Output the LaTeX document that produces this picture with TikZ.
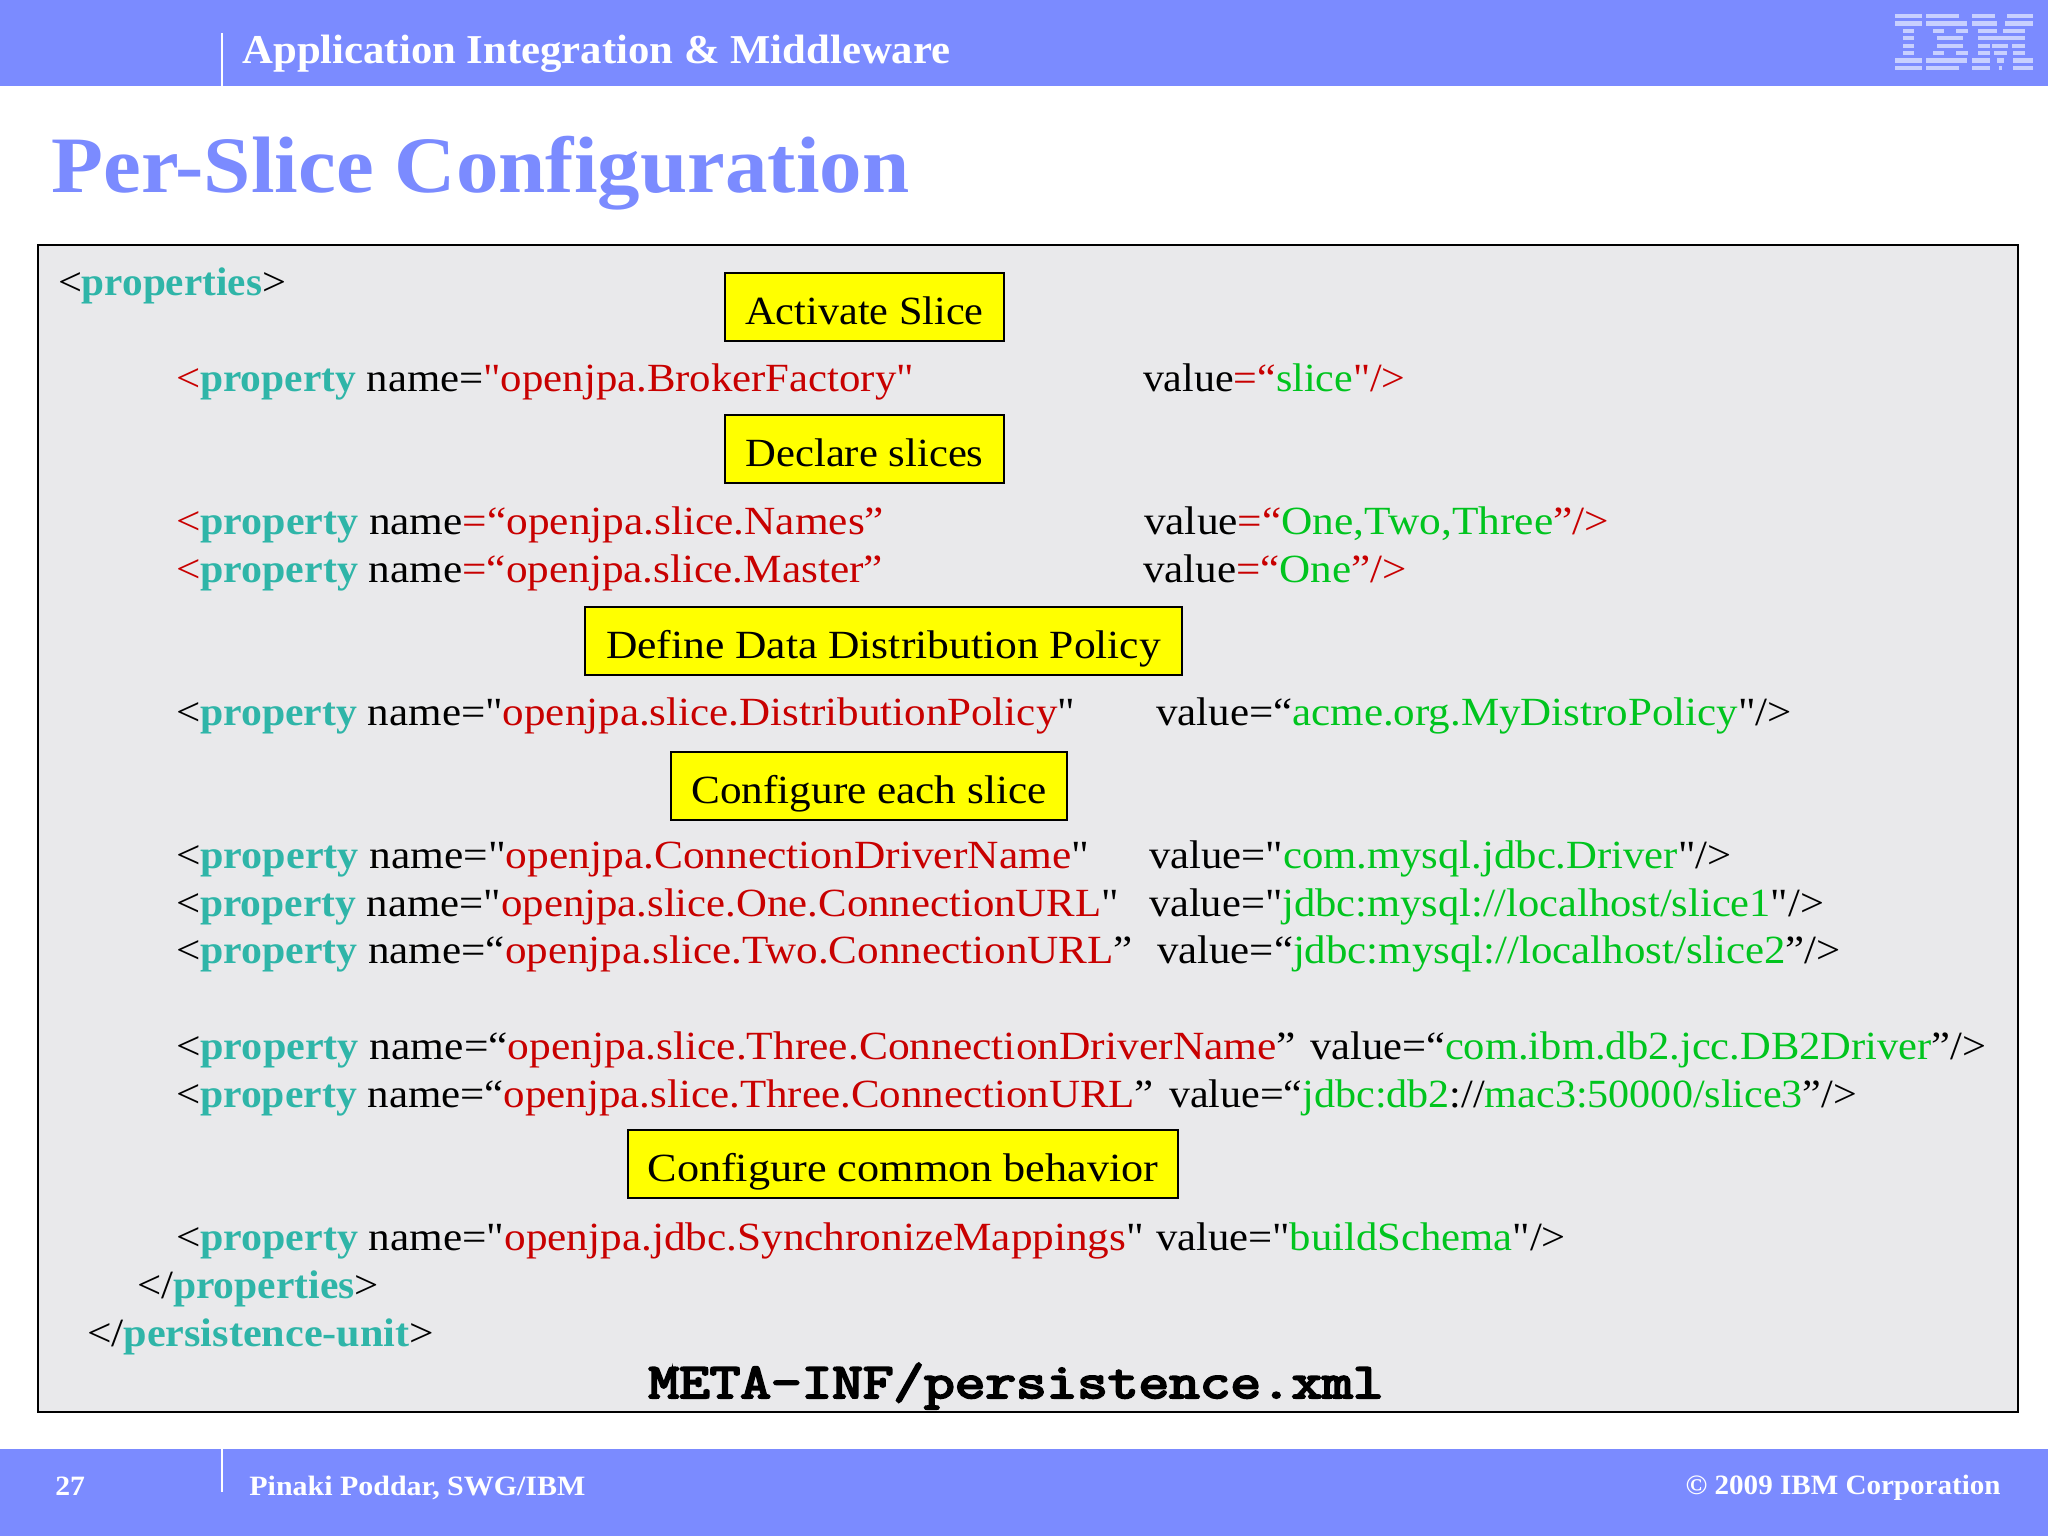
\documentclass[tikz,border=0pt]{standalone}
\usepackage{fontspec}
\setmainfont[FakeStretch=1.06,Ligatures=TeXOff]{Liberation Serif}
\newfontfamily\titlefont[FakeStretch=1.03,Ligatures=TeXOff]{Liberation Serif}
\newfontfamily\filefont[FakeBold=4,Ligatures=TeXOff]{Latin Modern Mono}
\definecolor{slideblue}{HTML}{7B8BFF}
\definecolor{panelgrey}{HTML}{E9E9EB}
\definecolor{tagteal}{HTML}{2FB5A8}
\definecolor{attrred}{HTML}{C80000}
\definecolor{valgreen}{HTML}{00C41E}
\definecolor{logolight}{HTML}{C8D0FF}
\definecolor{calloutyellow}{HTML}{FFFF00}
\newcommand{\tg}[1]{\textcolor{tagteal}{\bfseries\scalebox{0.97}[1]{#1}}}
\newcommand{\rd}[1]{\textcolor{attrred}{#1}}
\newcommand{\gn}[1]{\textcolor{valgreen}{#1}}
\newcommand{\logorow}[3]{\foreach \a/\b in {#3} {\fill[logolight] (\a,#1) rectangle (\b,#2);}}
\newsavebox\fitbox
\newcommand{\fitto}[2]{\sbox\fitbox{#2}\pgfmathsetmacro\fitratio{#1*0.5/\the\wd\fitbox}\scalebox{\fitratio}[1]{\usebox\fitbox}}
\tikzset{
  code/.style={anchor=base west,inner sep=0pt,outer sep=0pt,font=\fontsize{20}{24}\selectfont},
  callout/.style={draw=black,line width=1pt,fill=calloutyellow,inner sep=0pt,minimum height=34pt,text height=25.5pt,text depth=8.5pt,font=\fontsize{20}{24}\selectfont,text=black},
  whitetext/.style={anchor=base west,inner sep=0pt,text=white,font=\bfseries\fontsize{14}{17}\selectfont},
}
\begin{document}
\begin{tikzpicture}[x=0.5pt,y=-0.5pt]
\useasboundingbox (0,0) rectangle (2048,1536);
\fill[white] (0,0) rectangle (2048,1536);
% bands
\fill[slideblue] (0,0) rectangle (2048,86);
\fill[slideblue] (0,1449) rectangle (2048,1536);
\draw[white,line width=1pt] (222,33) -- (222,86);
\draw[white,line width=1pt] (222,1449) -- (222,1492);
\node[whitetext,font=\bfseries\fontsize{20.5}{24}\selectfont] (hdr) at (242,63.5) {\fitto{708}{Application Integration \& Middleware}};
% logo
\logorow{14}{18}{1895/1922,1926/1959,1972/1995,2007/2033}
\logorow{21}{26}{1895/1922,1926/1967,1972/1997,2005/2033}
\logorow{29}{33}{1903/1914,1933/1944,1956/1968,1978/1997,2003/2025}
\logorow{36}{40}{1903/1914,1937/1963,1978/2025}
\logorow{44}{48}{1903/1914,1937/1963,1978/1990,1992/2008,2012/2025}
\logorow{51}{55}{1903/1914,1933/1944,1956/1968,1978/1990,1994/2007,2013/2025}
\logorow{58}{63}{1895/1922,1926/1967,1972/1990,1997/2004,2013/2033}
\logorow{66}{70}{1895/1922,1926/1959,1972/1990,1999/2002,2013/2033}
% title
\node[anchor=base west,inner sep=0pt,text=slideblue,font=\titlefont\bfseries\fontsize{40}{44}\selectfont] (title) at (51,192) {\fitto{858}{Per-Slice Configuration}};
% panel
\node[draw=black,line width=1pt,fill=panelgrey,inner sep=0pt,anchor=north west,minimum width=990pt,minimum height=583.5pt] (panel) at (37,244) {};
% callouts
\node[callout,minimum width=139.5pt] (c1) at (864.5,307) {\fitto{238}{Activate Slice}};
\node[callout,minimum width=139.5pt] (c2) at (864.5,449) {\fitto{238}{Declare slices}};
\node[callout,minimum width=298.5pt] (c3) at (883.5,641) {\fitto{555}{Define Data Distribution Policy}};
\node[callout,minimum width=198pt] (c4) at (869,786) {\fitto{355}{Configure each slice}};
\node[callout,minimum width=275pt] (c5) at (903,1164) {\fitto{511}{Configure common behavior}};
% code
\node[code] (l0) at (58,295) {\fitto{228}{<\tg{properties}>}};
\node[code] (l1) at (176,391) {\fitto{738}{\rd{<}\tg{property} name=\rd{"openjpa.BrokerFactory"}}};
\node[code] (v1) at (1143,391) {\fitto{262.5}{value\rd{=“}\gn{slice}\rd{"/>}}};
\node[code] (l2) at (176,534) {\fitto{708}{\rd{<}\tg{property} name\rd{=“openjpa.slice.Names”}}};
\node[code] (v2) at (1144,534) {\fitto{465}{value\rd{=“}\gn{One,Two,Three}\rd{”/>}}};
\node[code] (l3) at (176,582) {\fitto{707}{\rd{<}\tg{property} name\rd{=“openjpa.slice.Master”}}};
\node[code] (v3) at (1143,582) {\fitto{264}{value\rd{=“}\gn{One}\rd{”/>}}};
\node[code] (l4) at (176,725) {\fitto{899}{<\tg{property} name="\rd{openjpa.slice.DistributionPolicy}"}};
\node[code] (v4) at (1156,725) {\fitto{636}{value=“\gn{acme.org.MyDistroPolicy}"/>}};
\node[code] (l5) at (176,868) {\fitto{913}{<\tg{property} name="\rd{openjpa.ConnectionDriverName}"}};
\node[code] (v5) at (1149,868) {\fitto{582.5}{value="\gn{com.mysql.jdbc.Driver}"/>}};
\node[code] (l6) at (176,916) {\fitto{943}{<\tg{property} name="\rd{openjpa.slice.One.ConnectionURL}"}};
\node[code] (v6) at (1149,916) {\fitto{675}{value="\gn{jdbc:mysql://localhost/slice1}"/>}};
\node[code] (l7) at (176,963) {\fitto{957}{<\tg{property} name=“\rd{openjpa.slice.Two.ConnectionURL}”}};
\node[code] (v7) at (1157,963) {\fitto{684}{value=“\gn{jdbc:mysql://localhost/slice2}”/>}};
\node[code] (l8) at (176,1059) {\fitto{1120}{<\tg{property} name=“\rd{openjpa.slice.Three.ConnectionDriverName}”}};
\node[code] (v8) at (1310,1059) {\fitto{676.5}{value=“\gn{com.ibm.db2.jcc.DB2Driver}”/>}};
\node[code] (l9) at (176,1107) {\fitto{978}{<\tg{property} name=“\rd{openjpa.slice.Three.ConnectionURL}”}};
\node[code] (v9) at (1169,1107) {\fitto{688}{value=“\gn{jdbc:db2}://\gn{mac3:50000/slice3}”/>}};
\node[code] (l10) at (176,1250) {\fitto{968}{<\tg{property} name="\rd{openjpa.jdbc.SynchronizeMappings}"}};
\node[code] (v10) at (1156,1250) {\fitto{410}{value="\gn{buildSchema}"/>}};
\node[code] (l11) at (137,1298) {\fitto{242}{</\tg{properties}>}};
\node[code] (l12) at (87,1346) {\fitto{347}{</\tg{persistence-unit}>}};
\node[anchor=base,inner sep=0pt,font=\filefont\fontsize{25}{28}\selectfont] (file) at (1016,1398) {\fitto{735}{META-INF/persistence.xml}};
% footer
\node[whitetext] (f1) at (55,1495) {27};
\node[whitetext] (f2) at (249,1495) {\fitto{336}{Pinaki Poddar, SWG/IBM}};
\node[whitetext,anchor=base east] (f3) at (2001,1494) {\fitto{315}{© 2009 IBM Corporation}};
\end{tikzpicture}
\end{document}
